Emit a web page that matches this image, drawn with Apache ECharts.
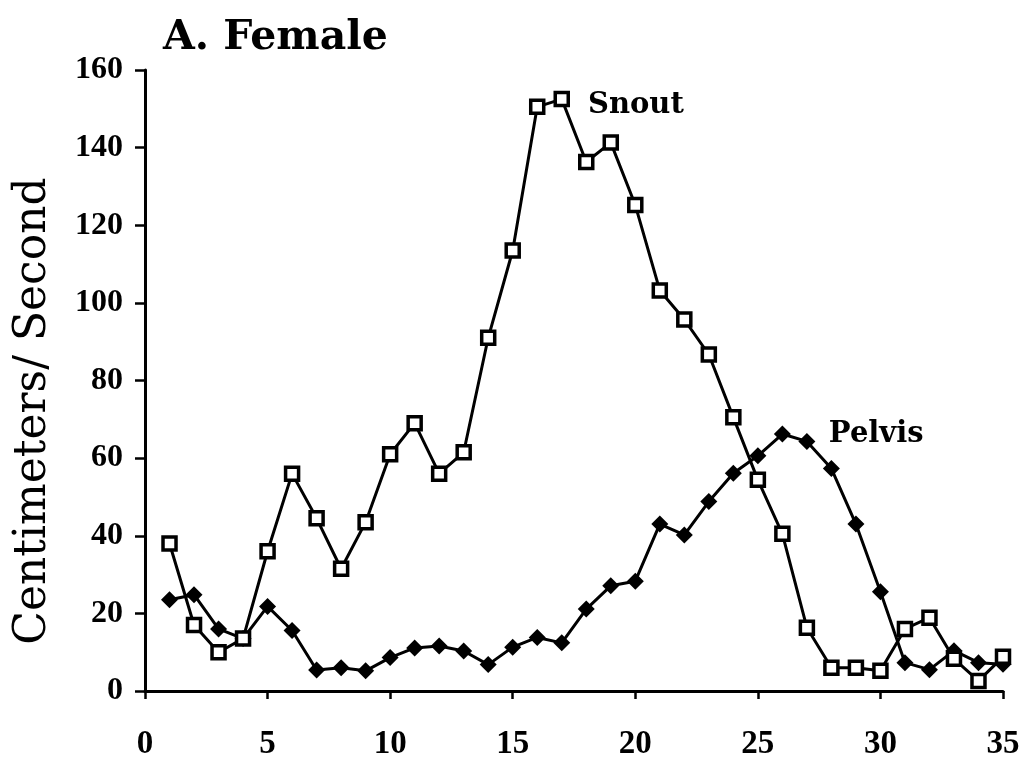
<!DOCTYPE html>
<html>
<head>
<meta charset="utf-8">
<script src="https://cdn.jsdelivr.net/npm/echarts@6/dist/echarts.min.js"></script>
<style>
  html, body { margin: 0; padding: 0; background: #fff; }
  #main { width: 1029px; height: 769px; }
</style>
</head>
<body>
<div id="main"></div>
<script>
// frame number along x
var frames = [1, 2, 3, 4, 5, 6, 7, 8, 9, 10, 11, 12, 13, 14, 15, 16, 17, 18,
  19, 20, 21, 22, 23, 24, 25, 26, 27, 28, 29, 30, 31, 32, 33, 34, 35];

// speeds (cm/s)
var snout = [38, 17, 10, 13.5, 36, 56, 44.5, 31.5, 43.5, 61, 69, 56, 61.5, 91,
  113.5, 150.5, 152.5, 136.3, 141.3, 125.2, 103.2, 95.7, 86.7, 70.5, 54.4, 40.5,
  16.3, 6, 6, 5.2, 16, 18.9, 8.3, 2.6, 8.8];
var pelvis = [23.5, 24.8, 16, 13.5, 21.8, 15.6, 5.4, 6, 5.2, 8.6, 11.1, 11.6,
  10.3, 6.8, 11.3, 13.8, 12.4, 21.1, 27.1, 28.3, 43, 40.2, 48.8, 56.1, 60.6,
  66.2, 64.3, 57.3, 43, 25.6, 7.3, 5.5, 10.4, 7.3, 6.9];

var serif = '"DejaVu Serif", "Liberation Serif", serif';
var narrowSerif = '"Liberation Serif", "DejaVu Serif", serif';

function pairs(vals, labelAt, labelText, dist, dy) {
  return frames.map(function (f, i) {
    var item = { value: [f, vals[i]] };
    if (f === labelAt) {
      item.label = {
        show: true,
        position: 'right',
        distance: dist,
        offset: [0, dy],
        formatter: labelText,
        color: '#000',
        fontFamily: serif,
        fontWeight: 'bold',
        fontSize: 29
      };
    }
    return item;
  });
}

var myChart = echarts.init(document.getElementById('main'), null, { renderer: 'canvas' });

var option = {
  backgroundColor: '#fff',
  animation: false,
  grid: { left: 145, top: 70, right: 26, bottom: 78 },
  title: {
    text: 'A. Female',
    left: 158,
    top: 13,
    textStyle: { fontFamily: serif, fontWeight: 'bold', fontSize: 41, color: '#000' }
  },
  graphic: [{
    type: 'text',
    x: 34,
    y: 411,
    rotation: Math.PI / 2,
    style: {
      text: 'Centimeters/ Second',
      fill: '#000',
      font: '44px ' + serif,
      textAlign: 'center',
      textVerticalAlign: 'middle'
    }
  }],
  xAxis: {
    type: 'value',
    min: 0,
    max: 35,
    interval: 5,
    splitLine: { show: false },
    axisLine: { lineStyle: { color: '#000', width: 3 } },
    axisTick: { inside: false, length: 8, lineStyle: { color: '#000', width: 2.5 } },
    axisLabel: {
      margin: 37, color: '#000', fontFamily: narrowSerif, fontWeight: 'bold', fontSize: 33
    }
  },
  yAxis: {
    type: 'value',
    min: 0,
    max: 160,
    interval: 20,
    splitLine: { show: false },
    axisLine: { lineStyle: { color: '#000', width: 3 } },
    axisTick: { length: 10, lineStyle: { color: '#000', width: 2.5 } },
    axisLabel: {
      margin: 22, color: '#000', fontFamily: narrowSerif, fontWeight: 'bold', fontSize: 32
    }
  },
  series: [
    {
      name: 'Snout',
      type: 'line',
      data: pairs(snout, 17, 'Snout', 18, 6),
      symbol: 'rect',
      symbolSize: 13,
      lineStyle: { color: '#000', width: 3 },
      itemStyle: { color: '#fff', borderColor: '#000', borderWidth: 3.5 },
      z: 3
    },
    {
      name: 'Pelvis',
      type: 'line',
      data: pairs(pelvis, 26, 'Pelvis', 38, 0),
      symbol: 'diamond',
      symbolSize: 17,
      lineStyle: { color: '#000', width: 3 },
      itemStyle: { color: '#000', borderColor: '#000', borderWidth: 0 },
      z: 2
    }
  ]
};

myChart.setOption(option);
</script>
</body>
</html>
